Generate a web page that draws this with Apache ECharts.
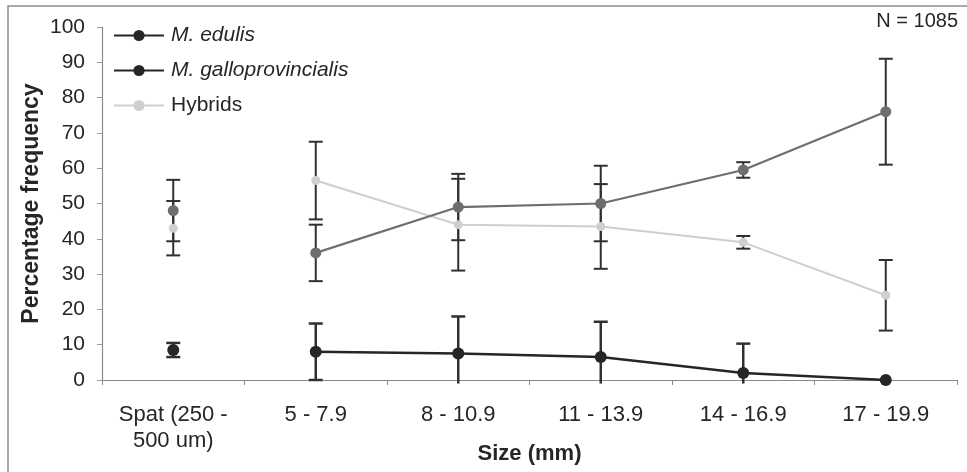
<!DOCTYPE html>
<html>
<head>
<meta charset="utf-8">
<title>Percentage frequency by size</title>
<script src="https://cdn.jsdelivr.net/npm/echarts@6/dist/echarts.min.js"></script>
<style>
  html, body { margin: 0; padding: 0; background: #fff; }
  #chart { width: 967px; height: 472px; }
</style>
</head>
<body>
<div id="chart"></div>
<script>
// Size classes on the x axis
const categories = ['Spat (250 -\n500 um)', '5 - 7.9', '8 - 10.9', '11 - 13.9', '14 - 16.9', '17 - 19.9'];

// Mean percentage frequency per size class, with error (±)
const edulis = [8.5, 8, 7.5, 6.5, 2, 0];
const edulisErr = [2, 8, 10.5, 10, 8.3, 0];
const gallo = [48, 36, 49, 50, 59.5, 76];
const galloErr = [8.7, 8, 9.4, 10.7, 2.2, 15];
const hybrids = [43, 56.5, 44, 43.5, 39, 24];
const hybridsErr = [7.7, 11, 13, 12, 1.8, 10];

const yTicks = [0, 10, 20, 30, 40, 50, 60, 70, 80, 90, 100];
const sampleNote = 'N = 1085';

const FONT = '"Liberation Sans", Arial, sans-serif';
const TEXT = '#262626';

const COL_EDULIS = '#262626';
const COL_GALLO = '#6e6e6e';
const COL_HYB = '#cfcfcf';
const COL_BAR = '#303030';

const chart = echarts.init(document.getElementById('chart'), null, { renderer: 'canvas' });

function errorData(vals, errs) {
  return vals.map((v, i) => [i, v - errs[i], v + errs[i], errs[i]]);
}

function errorSeries(vals, errs, color, width) {
  return {
    type: 'custom',
    silent: true,
    clip: false,
    z: 3,
    data: errorData(vals, errs),
    renderItem: function (params, api) {
      const idx = api.value(0);
      const lo = api.value(1);
      const hi = api.value(2);
      const e = api.value(3);
      if (!(e > 0)) return null;
      const top = api.coord([idx, hi]);
      const bot = api.coord([idx, Math.max(lo, -1)]);
      const half = 7;
      const style = { stroke: color, lineWidth: width, fill: null };
      const children = [
        { type: 'line', shape: { x1: top[0], y1: top[1], x2: bot[0], y2: bot[1] }, style: style },
        { type: 'line', shape: { x1: top[0] - half, y1: top[1], x2: top[0] + half, y2: top[1] }, style: style }
      ];
      if (lo >= 0) {
        children.push({ type: 'line', shape: { x1: bot[0] - half, y1: bot[1], x2: bot[0] + half, y2: bot[1] }, style: style });
      }
      return { type: 'group', children: children };
    }
  };
}

// Spat values stand alone; the trend line starts at 5 - 7.9 mm
function trend(vals) { return vals.map((v, i) => (i === 0 ? null : v)); }
function spat(vals) { return vals.map((v, i) => (i === 0 ? v : null)); }

function lineSeries(name, vals, color, width, size) {
  return [
    {
      name: name, type: 'line', data: trend(vals), connectNulls: false,
      symbol: 'circle', symbolSize: size, z: 4,
      lineStyle: { color: color, width: width },
      itemStyle: { color: color }
    },
    {
      name: name, type: 'line', data: spat(vals),
      symbol: 'circle', symbolSize: size, z: 4,
      lineStyle: { color: color, width: 0 },
      itemStyle: { color: color }
    }
  ];
}

const option = {
  animation: false,
  backgroundColor: '#ffffff',
  textStyle: { fontFamily: FONT, color: TEXT },
  grid: { left: 102, right: 10, top: 27, bottom: 92, containLabel: false, outerBoundsMode: 'none' },
  legend: {
    orient: 'vertical',
    left: 113,
    top: 25,
    padding: 0,
    itemWidth: 50,
    itemHeight: 14,
    itemGap: 14,
    selectedMode: false,
    textStyle: { fontFamily: FONT, fontSize: 21, color: TEXT, padding: [0, 0, 0, 2] },
    data: [
      { name: 'M. edulis', textStyle: { fontStyle: 'italic' } },
      { name: 'M. galloprovincialis', textStyle: { fontStyle: 'italic' },
        itemStyle: { color: COL_EDULIS }, lineStyle: { color: COL_EDULIS } },
      { name: 'Hybrids' }
    ]
  },
  xAxis: {
    type: 'category',
    data: categories,
    boundaryGap: true,
    name: 'Size (mm)',
    nameLocation: 'middle',
    nameGap: 63,
    nameMoveOverlap: false,
    nameTextStyle: { fontFamily: FONT, fontSize: 22, fontWeight: 'bold', color: TEXT },
    axisLine: { lineStyle: { color: '#8a8a8a', width: 1.2 } },
    axisTick: { show: true, alignWithLabel: false, length: 5, lineStyle: { color: '#8a8a8a' } },
    axisLabel: { fontFamily: FONT, fontSize: 22, color: TEXT, margin: 22, lineHeight: 26, interval: 0 },
    splitLine: { show: false }
  },
  yAxis: {
    type: 'value',
    min: yTicks[0],
    max: yTicks[yTicks.length - 1],
    interval: yTicks[1] - yTicks[0],
    name: 'Percentage frequency',
    nameLocation: 'middle',
    nameRotate: 90,
    nameGap: 59,
    nameMoveOverlap: false,
    nameTextStyle: { fontFamily: FONT, fontSize: 23, fontWeight: 'bold', color: TEXT },
    axisLine: { show: true, lineStyle: { color: '#8a8a8a', width: 1.2 } },
    axisTick: { show: true, inside: false, length: 5, lineStyle: { color: '#9a9a9a' } },
    axisLabel: { fontFamily: FONT, fontSize: 21, color: TEXT, margin: 17 },
    splitLine: { show: false }
  },
  graphic: [
    {
      type: 'rect', silent: true, z: -1,
      shape: { x: 8, y: 6, width: 1000, height: 1000 },
      style: { fill: null, stroke: '#8c8c8c', lineWidth: 1.5 }
    },
    {
      type: 'text', silent: true, right: 9, top: 11,
      style: { text: sampleNote, font: '20px ' + FONT, fill: TEXT }
    }
  ],
  series: [].concat(
    errorSeries(edulis, edulisErr, COL_BAR, 2.5),
    errorSeries(gallo, galloErr, COL_BAR, 2),
    errorSeries(hybrids, hybridsErr, COL_BAR, 2),
    lineSeries('Hybrids', hybrids, COL_HYB, 2, 9),
    lineSeries('M. galloprovincialis', gallo, COL_GALLO, 2.2, 11),
    lineSeries('M. edulis', edulis, COL_EDULIS, 2.5, 12)
  )
};

chart.setOption(option);
</script>
</body>
</html>
